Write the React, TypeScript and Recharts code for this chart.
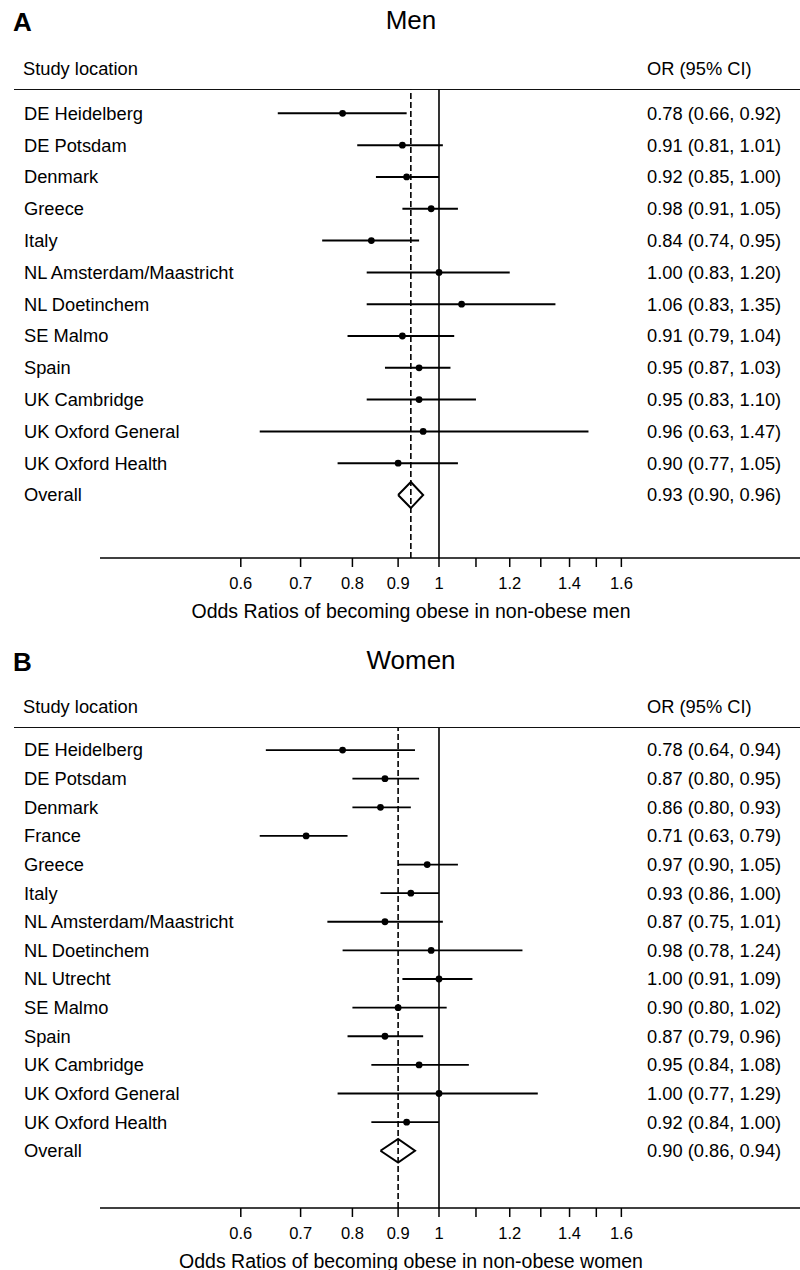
import { ComposedChart, ReferenceLine, Scatter, XAxis, YAxis } from 'recharts'

const FONT = '"Liberation Sans", Arial, Helvetica, sans-serif'

// panel A
const MEN_LOCATIONS = [
  'DE Heidelberg',
  'DE Potsdam',
  'Denmark',
  'Greece',
  'Italy',
  'NL Amsterdam/Maastricht',
  'NL Doetinchem',
  'SE Malmo',
  'Spain',
  'UK Cambridge',
  'UK Oxford General',
  'UK Oxford Health',
  'Overall',
]
const MEN_OR = [0.78, 0.91, 0.92, 0.98, 0.84, 1.0, 1.06, 0.91, 0.95, 0.95, 0.96, 0.9, 0.93]
const MEN_LOW = [0.66, 0.81, 0.85, 0.91, 0.74, 0.83, 0.83, 0.79, 0.87, 0.83, 0.63, 0.77, 0.9]
const MEN_HIGH = [0.92, 1.01, 1.0, 1.05, 0.95, 1.2, 1.35, 1.04, 1.03, 1.1, 1.47, 1.05, 0.96]

// panel B
const WOMEN_LOCATIONS = [
  'DE Heidelberg',
  'DE Potsdam',
  'Denmark',
  'France',
  'Greece',
  'Italy',
  'NL Amsterdam/Maastricht',
  'NL Doetinchem',
  'NL Utrecht',
  'SE Malmo',
  'Spain',
  'UK Cambridge',
  'UK Oxford General',
  'UK Oxford Health',
  'Overall',
]
const WOMEN_OR = [0.78, 0.87, 0.86, 0.71, 0.97, 0.93, 0.87, 0.98, 1.0, 0.9, 0.87, 0.95, 1.0, 0.92, 0.9]
const WOMEN_LOW = [0.64, 0.8, 0.8, 0.63, 0.9, 0.86, 0.75, 0.78, 0.91, 0.8, 0.79, 0.84, 0.77, 0.84, 0.86]
const WOMEN_HIGH = [0.94, 0.95, 0.93, 0.79, 1.05, 1.0, 1.01, 1.24, 1.09, 1.02, 0.96, 1.08, 1.29, 1.0, 0.94]

const OR_TICKS = [0.6, 0.7, 0.8, 0.9, 1, 1.1, 1.2, 1.3, 1.4, 1.5, 1.6]
const UNLABELLED_TICKS = [1.1, 1.3, 1.5]
const X_DOMAIN = [0.4174, 2.5356]

type Row = { name: string; or: number; lo: number; hi: number; y: number }

type PanelProps = {
  letter: string
  title: string
  xTitle: string
  locations: string[]
  or: number[]
  lo: number[]
  hi: number[]
  top: number
  height: number
  plotTop: number
  xAxisHeight: number
  marginBottom: number
  yDomain: [number, number]
  lineWidth: number
}

const fmt = (v: number) => v.toFixed(2)

function ForestPanel(p: PanelProps) {
  const rows: Row[] = p.locations.map((name, i) => ({ name, or: p.or[i], lo: p.lo[i], hi: p.hi[i], y: i }))
  const studies = rows.slice(0, -1)
  const overall = rows[rows.length - 1]
  const labels = rows.map((r) => `${fmt(r.or)} (${fmt(r.lo)}, ${fmt(r.hi)})`)
  const plotBottom = p.height - p.marginBottom - p.xAxisHeight

  const diamond = [
    { x: overall.lo, y: overall.y },
    { x: overall.or, y: overall.y - 0.41 },
    { x: overall.hi, y: overall.y },
    { x: overall.or, y: overall.y + 0.41 },
    { x: overall.lo, y: overall.y },
  ]

  const textStyle = { position: 'absolute' as const, fontFamily: FONT, color: '#000', whiteSpace: 'nowrap' as const }

  return (
    <div style={{ position: 'absolute', left: 0, top: p.top, width: 800, height: p.height }}>
      <div style={{ ...textStyle, left: 13, top: 7, fontSize: 26, lineHeight: '30px', fontWeight: 'bold' }}>{p.letter}</div>
      <div style={{ ...textStyle, left: 411, top: 5, fontSize: 26, lineHeight: '30px', transform: 'translateX(-50%)' }}>{p.title}</div>
      <div style={{ ...textStyle, left: 23, top: p.plotTop - 31, fontSize: 18.3, lineHeight: '20px' }}>Study location</div>
      <div style={{ ...textStyle, left: 647, top: p.plotTop - 31, fontSize: 18.3, lineHeight: '20px' }}>OR (95% CI)</div>
      <div style={{ position: 'absolute', left: 14, top: p.plotTop - 0.75, width: 786, borderTop: '1.5px solid #111' }} />
      <div style={{ ...textStyle, left: 411, top: plotBottom + 42, fontSize: 19.5, lineHeight: '22px', transform: 'translateX(-50%)' }}>
        {p.xTitle}
      </div>

      <ComposedChart width={800} height={p.height} margin={{ top: p.plotTop, right: 0, bottom: p.marginBottom, left: 14 }}>
        <XAxis
          type="number"
          dataKey="x"
          scale="log"
          domain={X_DOMAIN}
          allowDataOverflow
          ticks={OR_TICKS}
          interval={0}
          height={p.xAxisHeight}
          tickSize={9}
          tick={(t: any) => (
            <text x={t.x} y={plotBottom + 25} dy="0.35em" textAnchor="middle" fontSize={16.5} fontFamily={FONT} fill="#000">
              {UNLABELLED_TICKS.includes(t.payload.value) ? '' : String(t.payload.value)}
            </text>
          )}
          tickLine={{ stroke: '#000', strokeWidth: 1.5 }}
          axisLine={{ stroke: '#000', strokeWidth: 1.5 }}
        />
        <YAxis
          type="number"
          dataKey="y"
          domain={p.yDomain}
          reversed
          allowDataOverflow
          ticks={rows.map((r) => r.y)}
          interval={0}
          width={86}
          axisLine={false}
          tickLine={false}
          tick={(t: any) => (
            <g>
              <text x={24} y={t.y} dy="0.35em" textAnchor="start" fontSize={18.3} fontFamily={FONT} fill="#000">
                {rows[t.payload.value]?.name}
              </text>
              <text x={647} y={t.y} dy="0.35em" textAnchor="start" fontSize={18.3} fontFamily={FONT} fill="#000">
                {labels[t.payload.value]}
              </text>
            </g>
          )}
        />
        <ReferenceLine x={1} stroke="#000" strokeWidth={1.6} />
        <ReferenceLine x={overall.or} stroke="#000" strokeWidth={1.6} strokeDasharray="6 3" />
        {studies.map((r) => (
          <ReferenceLine
            key={r.name}
            segment={[
              { x: r.lo, y: r.y },
              { x: r.hi, y: r.y },
            ]}
            stroke="#000"
            strokeWidth={p.lineWidth}
          />
        ))}
        <Scatter
          data={studies.map((r) => ({ x: r.or, y: r.y }))}
          isAnimationActive={false}
          shape={(s: any) => <circle cx={s.cx} cy={s.cy} r={3.4} fill="#000" />}
        />
        <Scatter
          data={diamond}
          isAnimationActive={false}
          line={{ stroke: '#000', strokeWidth: 2 }}
          lineJointType="linear"
          shape={() => <g />}
        />
      </ComposedChart>
    </div>
  )
}

export default function App() {
  return (
    <div style={{ position: 'absolute', left: 0, top: 0, width: 800, height: 1270, background: '#fff' }}>
      <ForestPanel
        letter="A"
        title="Men"
        xTitle="Odds Ratios of becoming obese in non-obese men"
        locations={MEN_LOCATIONS}
        or={MEN_OR}
        lo={MEN_LOW}
        hi={MEN_HIGH}
        top={0}
        height={640}
        plotTop={89.5}
        xAxisHeight={70}
        marginBottom={12}
        yDomain={[-0.75, 13.98]}
        lineWidth={2}
      />
      <ForestPanel
        letter="B"
        title="Women"
        xTitle="Odds Ratios of becoming obese in non-obese women"
        locations={WOMEN_LOCATIONS}
        or={WOMEN_OR}
        lo={WOMEN_LOW}
        hi={WOMEN_HIGH}
        top={640}
        height={630}
        plotTop={88}
        xAxisHeight={62}
        marginBottom={0}
        yDomain={[-0.77, 16.0]}
        lineWidth={1.8}
      />
    </div>
  )
}
